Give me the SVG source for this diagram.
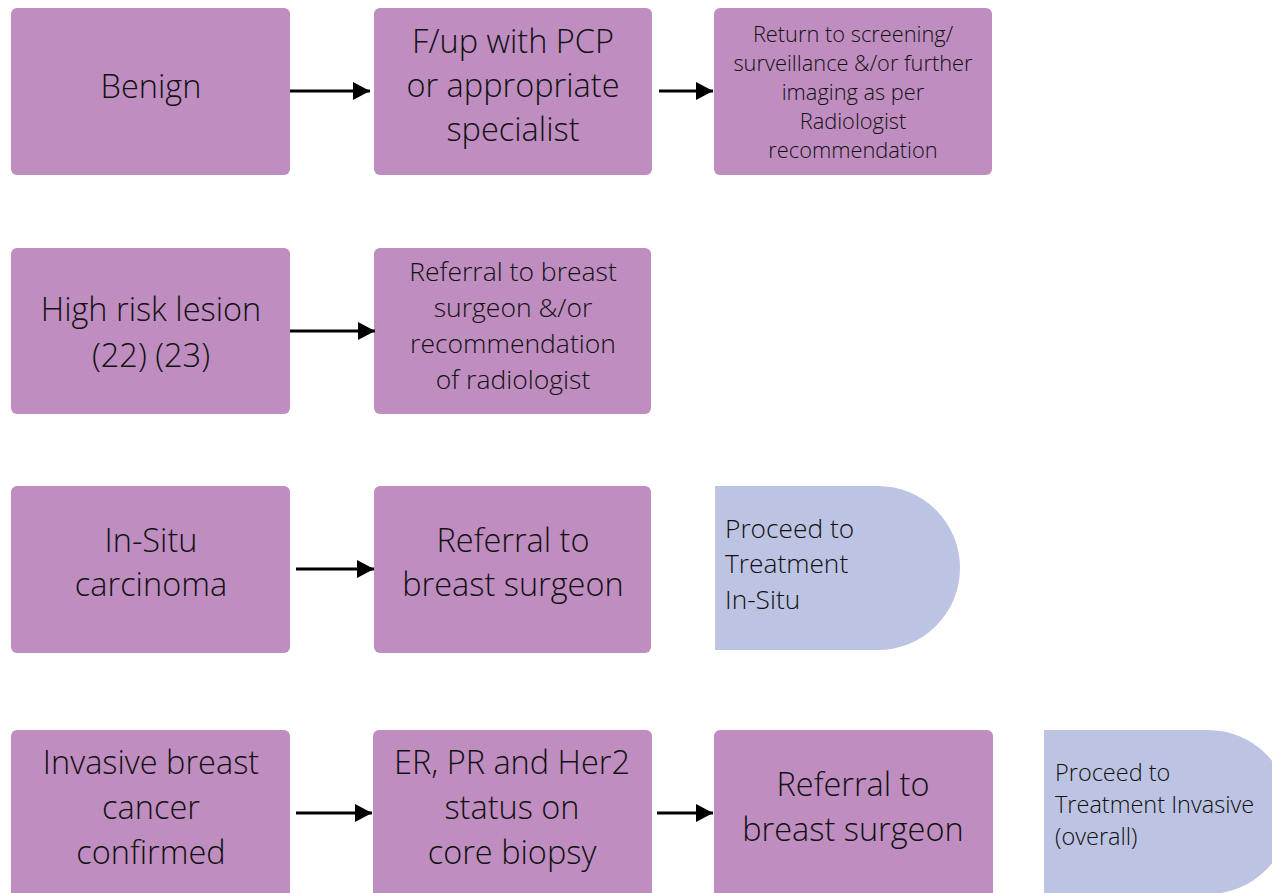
<svg xmlns="http://www.w3.org/2000/svg" width="1272" height="893" viewBox="0 0 1272 893">
<defs>
<style>
.box{fill:#BF8DC0;}
.off{fill:#BDC3E2;}
text{font-family:"Open Sans","Noto Sans","Liberation Sans",sans-serif;fill:#111;font-weight:300;}
.c{text-anchor:middle;}
.l30{font-size:32.5px;}
.l24{font-size:26.5px;}
.l20{font-size:21.8px;}
.o1{font-size:26.3px;}
.o2{font-size:23.5px;}
.conn line{stroke:#000;stroke-width:3;marker-end:url(#ah);}
</style>
<marker id="ah" markerUnits="userSpaceOnUse" markerWidth="18" markerHeight="20" refX="17" refY="9" orient="auto">
<path d="M0,0 L17,9 L0,18 Z" fill="#000"/>
</marker>
</defs>
<rect width="1272" height="893" fill="#fff"/>

<g id="benign"><rect class="box" x="11" y="8" width="279" height="167" rx="6"/>
<text class="c l30" x="151" y="98">Benign</text></g>
<g id="fup"><rect class="box" x="374" y="8" width="278" height="167" rx="6"/>
<text class="c l30" x="513" y="53">F/up with PCP</text>
<text class="c l30" x="513" y="97">or appropriate</text>
<text class="c l30" x="513" y="141">specialist</text></g>
<g id="return"><rect class="box" x="714" y="8" width="278" height="167" rx="6"/>
<text class="c l20" x="853" y="42">Return to screening/</text>
<text class="c l20" x="853" y="71">surveillance &amp;/or further</text>
<text class="c l20" x="853" y="100">imaging as per</text>
<text class="c l20" x="853" y="129">Radiologist</text>
<text class="c l20" x="853" y="158">recommendation</text></g>

<g id="highrisk"><rect class="box" x="11" y="248" width="279" height="166" rx="6"/>
<text class="c l30" x="151" y="321">High risk lesion</text>
<text class="c l30" x="151" y="367">(22) (23)</text></g>
<g id="referral1"><rect class="box" x="374" y="248" width="277" height="166" rx="6"/>
<text class="c l24" x="513" y="281">Referral to breast</text>
<text class="c l24" x="513" y="317">surgeon &amp;/or</text>
<text class="c l24" x="513" y="353">recommendation</text>
<text class="c l24" x="513" y="389">of radiologist</text></g>

<g id="insitu"><rect class="box" x="11" y="486" width="279" height="167" rx="6"/>
<text class="c l30" x="151" y="552">In-Situ</text>
<text class="c l30" x="151" y="596">carcinoma</text></g>
<g id="referral2"><rect class="box" x="374" y="486" width="277" height="167" rx="6"/>
<text class="c l30" x="513" y="552">Referral to</text>
<text class="c l30" x="513" y="596">breast surgeon</text></g>
<g id="treat-insitu"><path class="off" d="M715,486 H878 A82,82 0 0 1 878,650 H715 Z"/>
<text class="o1" x="725" y="538">Proceed to</text>
<text class="o1" x="725" y="573">Treatment</text>
<text class="o1" x="725" y="609">In-Situ</text></g>

<g id="invasive"><rect class="box" x="11" y="730" width="279" height="170" rx="6"/>
<text class="c l30" x="151" y="774">Invasive breast</text>
<text class="c l30" x="151" y="819">cancer</text>
<text class="c l30" x="151" y="864">confirmed</text></g>
<g id="erpr"><rect class="box" x="373" y="730" width="279" height="170" rx="6"/>
<text class="c l30" x="512" y="774">ER, PR and Her2</text>
<text class="c l30" x="512" y="819">status on</text>
<text class="c l30" x="512" y="864">core biopsy</text></g>
<g id="referral3"><rect class="box" x="714" y="730" width="279" height="170" rx="6"/>
<text class="c l30" x="853" y="796">Referral to</text>
<text class="c l30" x="853" y="841">breast surgeon</text></g>
<g id="treat-invasive"><path class="off" d="M1044,730 H1208 A82,82 0 0 1 1290,812 A82,82 0 0 1 1208,894 H1044 Z"/>
<text class="o2" x="1055" y="781">Proceed to</text>
<text class="o2" x="1055" y="813">Treatment Invasive</text>
<text class="o2" x="1055" y="845">(overall)</text></g>

<g id="connectors" class="conn">
<line x1="290" y1="91" x2="370" y2="91"/>
<line x1="659" y1="91" x2="713" y2="91"/>
<line x1="290" y1="331" x2="375" y2="331"/>
<line x1="296" y1="569" x2="374" y2="569"/>
<line x1="296" y1="813" x2="372" y2="813"/>
<line x1="657" y1="813" x2="713" y2="813"/>
</g>
</svg>
